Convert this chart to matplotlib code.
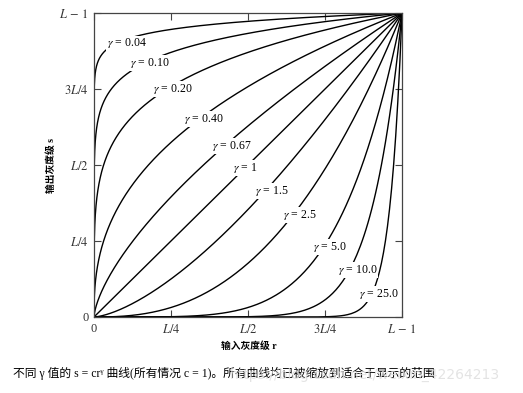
import numpy as np
import matplotlib.pyplot as plt

plt.rcParams['mathtext.fontset'] = 'stix'
plt.rcParams['font.family'] = ['Liberation Serif', 'Noto Sans CJK SC', 'DejaVu Sans']

# gamma 值 (s = c r^gamma, c = 1)
gammas = [0.04, 0.10, 0.20, 0.40, 0.67, 1, 1.5, 2.5, 5.0, 10.0, 25.0]
gamma_labels = ["0.04", "0.10", "0.20", "0.40", "0.67", "1", "1.5", "2.5", "5.0", "10.0", "25.0"]
# 标签位置 (数据坐标)
label_pos = [(0.107, 0.90), (0.18, 0.836), (0.257, 0.75), (0.357, 0.651),
             (0.448, 0.5625), (0.49, 0.49), (0.578, 0.414), (0.669, 0.336),
             (0.766, 0.23), (0.855, 0.155), (0.925, 0.076)]

tick_vals = [0, 0.25, 0.5, 0.75, 1]
tick_labels = ["0", "$L/4$", "$L/2$", "$3L/4$", "$L\\,-\\,1$"]

fig = plt.figure(figsize=(5.23, 3.93), dpi=100)
ax = fig.add_axes([0.1797, 0.1934, 0.589, 0.7735])

r = np.concatenate([[0], np.geomspace(1e-9, 1, 3000)])
for g in gammas:
    ax.plot(r, r ** g, color="black", linewidth=1.0, solid_capstyle="butt")

for lab, (x, y) in zip(gamma_labels, label_pos):
    ax.text(x, y, "$\\gamma$ = " + lab, fontsize=8.5, ha="center", va="center",
            bbox=dict(facecolor="white", edgecolor="none", pad=0.6), zorder=5)

ax.set_xlim(0, 1)
ax.set_ylim(0, 1)
ax.set_xticks(tick_vals)
ax.set_xticklabels(tick_labels, fontsize=9, color="#333333")
ax.set_yticks(tick_vals)
ax.set_yticklabels(tick_labels, fontsize=9, color="#333333")
ax.tick_params(direction="in", length=5, width=0.8, top=True, right=True,
               labeltop=False, labelright=False, pad=4, color="#444444")
for sp in ax.spines.values():
    sp.set_linewidth(0.9)
    sp.set_color("#444444")

# 轴标签 (不用 mathtext, 以便中文字体回退)
fig.text(0.098, 0.58, "输出灰度级 s", rotation=90, fontsize=7, fontweight="bold",
         ha="center", va="center")
fig.text(0.475, 0.12, "输入灰度级 r", fontsize=7, fontweight="bold",
         ha="center", va="center")

fig.text(0.025, 0.05, "不同 γ 值的 s = crᵞ 曲线(所有情况 c = 1)。所有曲线均已被缩放到适合于显示的范围",
         fontsize=8.5, ha="left", va="center")
fig.text(0.44, 0.045, "https://blog.csdn.net/weixin_42264213", fontsize=10,
         color="#dddddd", ha="left", va="center", family="DejaVu Sans", alpha=0.8)

fig.savefig("out.png", dpi=100)
